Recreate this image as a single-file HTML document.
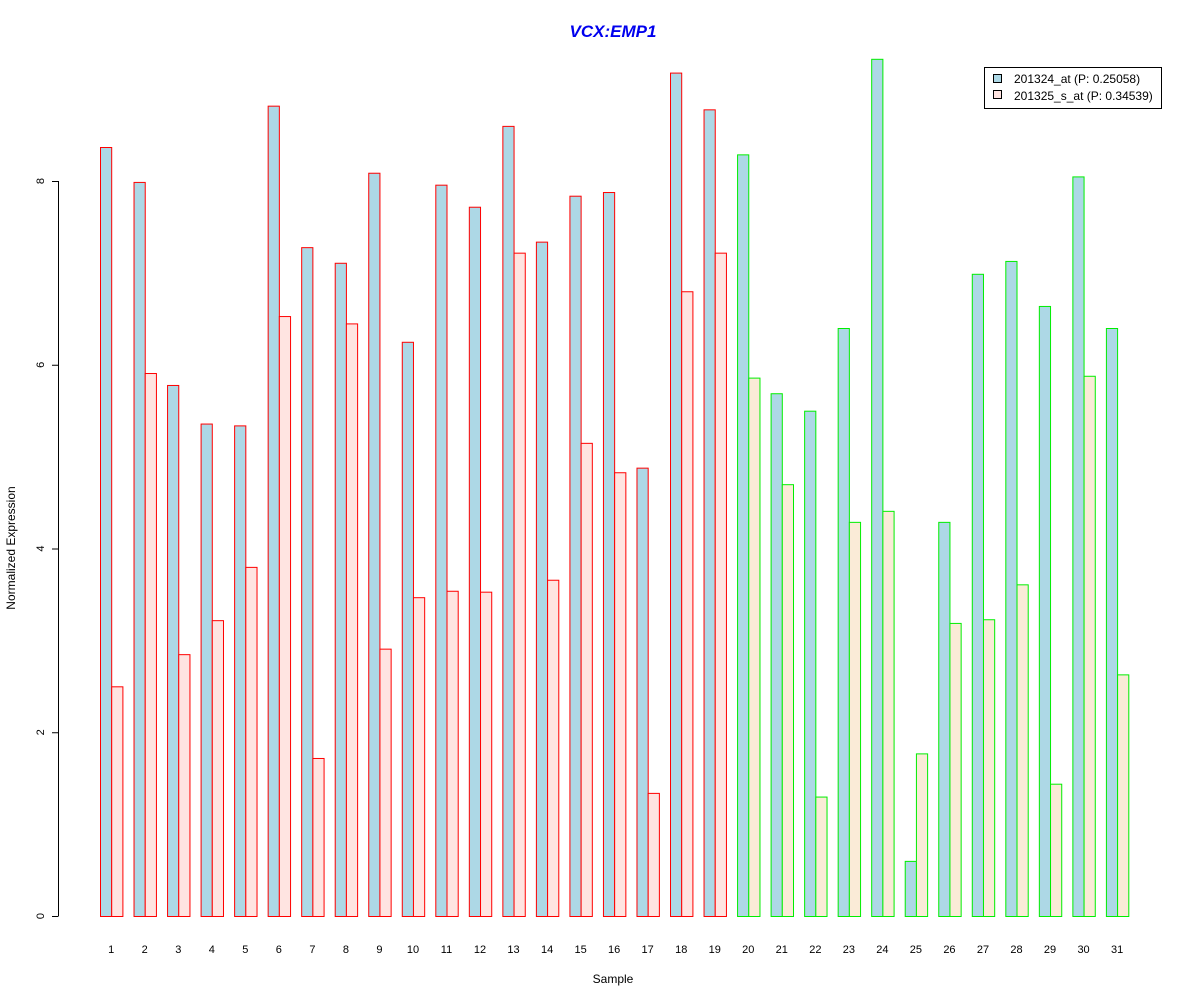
<!DOCTYPE html>
<html><head><meta charset="utf-8"><style>body{margin:0;background:#fff}svg{display:block;font-family:"Liberation Sans",Arial,sans-serif}</style></head>
<body>
<svg id="chart" width="1200" height="1000" xmlns="http://www.w3.org/2000/svg">
<text x="613" y="37" text-anchor="middle" font-size="17" font-weight="bold" font-style="italic" fill="#0000EE">VCX:EMP1</text>
<text x="613" y="983" text-anchor="middle" font-size="12">Sample</text>
<text transform="translate(15,548) rotate(-90)" text-anchor="middle" font-size="12">Normalized Expression</text>
<g id="yaxis"></g>
<g id="bars"></g>
<g id="xlabels"></g>
<g>
<rect x="984.5" y="67.5" width="177" height="41" fill="#fff" stroke="#000"/>
<g><rect x="993.5" y="74.5" width="8" height="8" fill="#ADD8E6" stroke="#000"/><text x="1014" y="83" font-size="12">201324_at (P: 0.25058)</text></g>
<g><rect x="993.5" y="90.5" width="8" height="8" fill="#FFE4E1" stroke="#000"/><text x="1014" y="100" font-size="12">201325_s_at (P: 0.34539)</text></g>
</g>
</svg>
<script>
const samples=["1","2","3","4","5","6","7","8","9","10","11","12","13","14","15","16","17","18","19","20","21","22","23","24","25","26","27","28","29","30","31"];
const series1=[8.37,7.99,5.78,5.36,5.34,8.82,7.28,7.11,8.09,6.25,7.96,7.72,8.60,7.34,7.84,7.88,4.88,9.18,8.78,8.29,5.69,5.50,6.40,9.33,0.60,4.29,6.99,7.13,6.64,8.05,6.40];
const series2=[2.50,5.91,2.85,3.22,3.80,6.53,1.72,6.45,2.91,3.47,3.54,3.53,7.22,3.66,5.15,4.83,1.34,6.80,7.22,5.86,4.70,1.30,4.29,4.41,1.77,3.19,3.23,3.61,1.44,5.88,2.63];
const groups=[1,1,1,1,1,1,1,1,1,1,1,1,1,1,1,1,1,1,1,2,2,2,2,2,2,2,2,2,2,2,2];
const yTicks=[0,2,4,6,8];
const NS="http://www.w3.org/2000/svg";
const y=v=>916-v*91.875;
const x=i=>100+i*33.53;
const bw=11.2;
function mk(tag,attrs,parent){const e=document.createElementNS(NS,tag);for(const k in attrs)e.setAttribute(k,attrs[k]);parent.appendChild(e);return e;}
const ya=document.getElementById('yaxis');
mk('line',{x1:58.5,x2:58.5,y1:y(8),y2:y(0),stroke:'#000'},ya);
yTicks.forEach(t=>{
 const l=mk('line',{x1:52,x2:58.5,y1:y(t)+0.5,y2:y(t)+0.5,stroke:'#000'},ya);
 
 
 const tx=mk('text',{transform:`translate(44,${y(t)}) rotate(-90)`,'text-anchor':'middle','font-size':11},ya);
 
 
 tx.textContent=t;
});
const bars=document.getElementById('bars'),xl=document.getElementById('xlabels');
samples.forEach((s,i)=>{
 const g=groups[i],stroke=g===1?'#FF0000':'#00EE00',f2=g===1?'#FFE4E1':'#FAEBD7';
 const b1=mk('rect',{x:x(i)+0.5,y:y(series1[i])+0.5,width:bw,height:y(0)-y(series1[i]),fill:'#ADD8E6',stroke:stroke},bars);
 
 
 const b2=mk('rect',{x:x(i)+bw+0.5,y:y(series2[i])+0.5,width:bw,height:y(0)-y(series2[i]),fill:f2,stroke:stroke},bars);
 
 
 const t=mk('text',{x:x(i)+bw,y:953,'text-anchor':'middle','font-size':11},xl);
 
 
 t.textContent=s;
});
</script>
</body></html>
